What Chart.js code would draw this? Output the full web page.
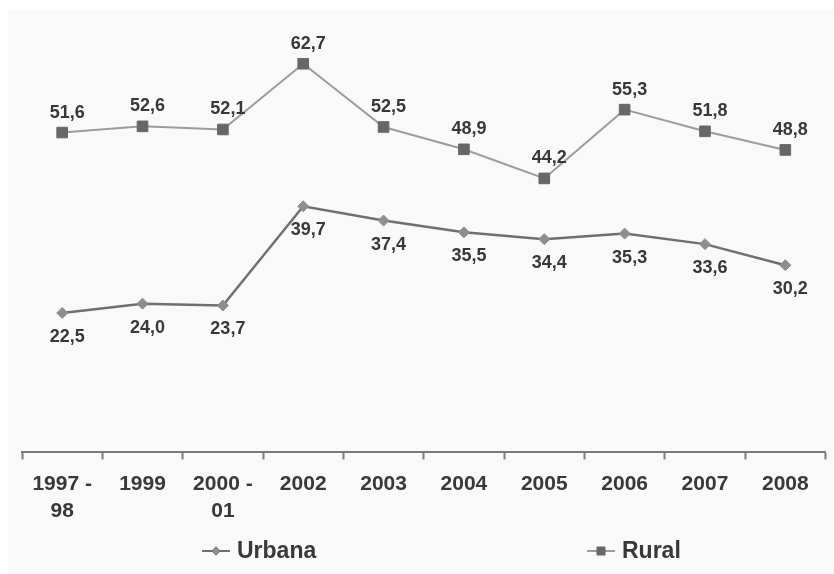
<!DOCTYPE html>
<html>
<head>
<meta charset="utf-8">
<script src="https://cdn.jsdelivr.net/npm/chart.js@4/dist/chart.umd.min.js"></script>
<style>
    html, body { margin: 0; padding: 0; background: #ffffff; }
    #wrap {
        position: absolute;
        left: 8px;
        top: 10px;
        width: 826px;
        height: 564px;
        background: #f9f9f9;
    }
</style>
</head>
<body>
<div id="wrap"><canvas id="myChart"></canvas></div>
<script>
const categories = [['1997 -', '98'], '1999', ['2000 -', '01'], '2002', '2003', '2004', '2005', '2006', '2007', '2008']
const urbana = [22.5, 24.0, 23.7, 39.7, 37.4, 35.5, 34.4, 35.3, 33.6, 30.2]
const rural = [51.6, 52.6, 52.1, 62.7, 52.5, 48.9, 44.2, 55.3, 51.8, 48.8]
const seriesNames = ['Urbana', 'Rural']

const colors = {
    urbanaLine: '#6f6f6f',
    urbanaPoint: '#8e8e8e',
    ruralLine: '#9c9c9c',
    ruralPoint: '#676767',
    text: '#383838',
    axis: '#7a7a7a',
}
const fontFamily = '"Liberation Sans", Arial, sans-serif'

// value labels: rural above the point, urbana below
const valueLabels = {
    id: 'valueLabels',
    afterDatasetsDraw(chart) {
        const ctx = chart.ctx
        ctx.save()
        ctx.font = 'bold 18px ' + fontFamily
        ctx.fillStyle = colors.text
        ctx.textAlign = 'center'
        ctx.textBaseline = 'middle'
        chart.data.datasets.forEach((ds, i) => {
            const meta = chart.getDatasetMeta(i)
            const dy = ds.labelOffset
            meta.data.forEach((pt, j) => {
                const txt = ds.data[j].toFixed(1).replace('.', ',')
                ctx.fillText(txt, pt.x + 5, pt.y + dy)
            })
        })
        ctx.restore()
    },
}

// legend spread out like the original, Chart.js legend would wrap
const spreadLegend = {
    id: 'spreadLegend',
    afterDraw(chart) {
        const ctx = chart.ctx
        const xs = [208, 593]
        const y = 541
        ctx.save()
        chart.data.datasets.forEach((ds, i) => {
            const x = xs[i]
            ctx.strokeStyle = ds.borderColor
            ctx.lineWidth = 2
            ctx.beginPath()
            ctx.moveTo(x - 14, y)
            ctx.lineTo(x + 14, y)
            ctx.stroke()
            Chart.helpers.drawPoint(ctx, {
                pointStyle: ds.pointStyle,
                radius: ds.pointRadius * 0.8,
                rotation: 0,
                borderWidth: 0,
            }, x, y)
            ctx.fillStyle = ds.pointBackgroundColor
            ctx.fill()
            ctx.font = 'bold 23px ' + fontFamily
            ctx.fillStyle = colors.text
            ctx.textAlign = 'left'
            ctx.textBaseline = 'middle'
            ctx.fillText(ds.label, x + 21, y + 1)
        })
        ctx.restore()
    },
}

const data = {
    labels: categories,
    datasets: [
        {
            label: seriesNames[0],
            data: urbana,
            borderColor: colors.urbanaLine,
            borderWidth: 2.5,
            pointStyle: 'rectRot',
            pointRadius: 5.5,
            pointBackgroundColor: colors.urbanaPoint,
            pointBorderColor: colors.urbanaPoint,
            pointBorderWidth: 1,
            tension: 0,
            labelOffset: 24,
        },
        {
            label: seriesNames[1],
            data: rural,
            borderColor: colors.ruralLine,
            borderWidth: 2,
            pointStyle: 'rect',
            pointRadius: 7.5,
            pointBackgroundColor: colors.ruralPoint,
            pointBorderColor: colors.ruralPoint,
            pointBorderWidth: 1,
            tension: 0,
            labelOffset: -20,
        },
    ],
}

const config = {
    type: 'line',
    data: data,
    options: {
        responsive: true,
        maintainAspectRatio: false,
        animation: false,
        layout: { padding: { left: 14, right: 7, top: 8, bottom: 38 } },
        plugins: {
            legend: { display: false },
            tooltip: { enabled: false },
        },
        scales: {
            x: {
                offset: true,
                grid: {
                    offset: true,
                    drawOnChartArea: false,
                    drawTicks: true,
                    tickLength: 7,
                    tickWidth: 2,
                    tickColor: colors.axis,
                },
                border: { display: true, color: colors.axis, width: 2 },
                ticks: {
                    color: colors.text,
                    padding: 11,
                    maxRotation: 0,
                    autoSkip: false,
                    font: { family: fontFamily, size: 21, weight: 'bold', lineHeight: 1.3 },
                },
            },
            y: {
                display: false,
                min: 0,
                max: 70,
            },
        },
    },
    plugins: [valueLabels, spreadLegend],
}

new Chart(document.getElementById('myChart'), config)
</script>
</body>
</html>
